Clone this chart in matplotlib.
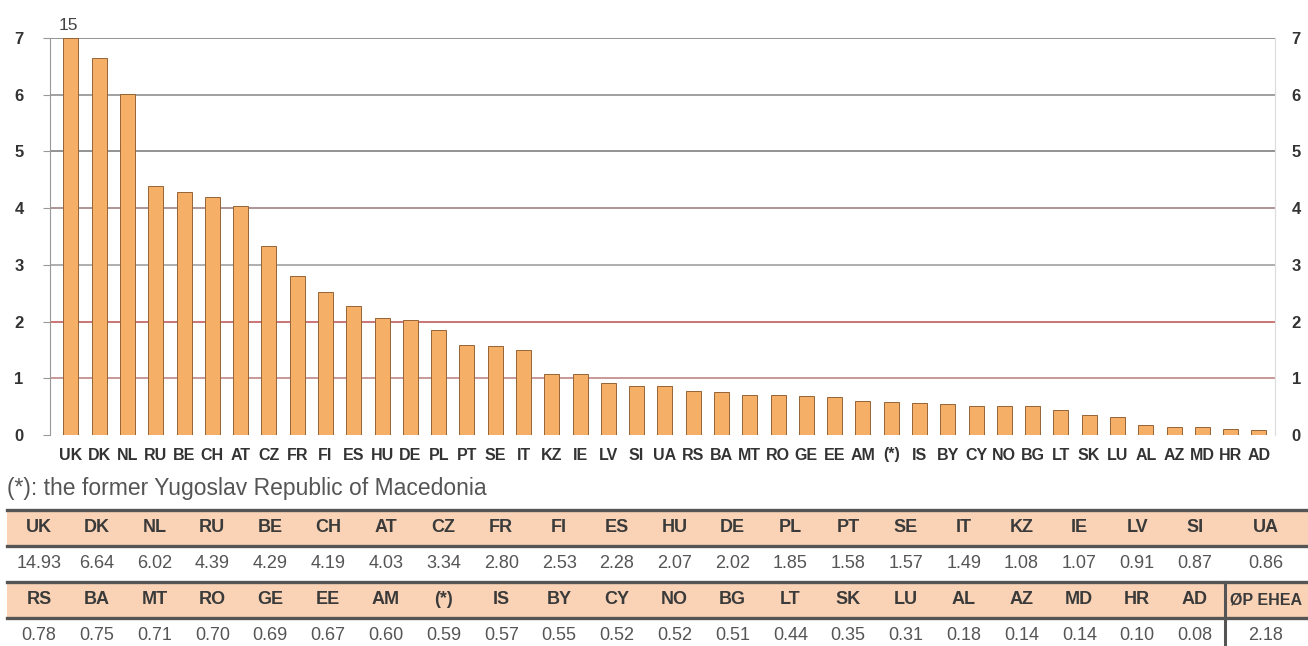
import matplotlib.pyplot as plt
from matplotlib.patches import Rectangle

plt.rcParams["font.family"] = ["Liberation Sans", "DejaVu Sans"]

codes = ["UK", "DK", "NL", "RU", "BE", "CH", "AT", "CZ", "FR", "FI", "ES", "HU",
         "DE", "PL", "PT", "SE", "IT", "KZ", "IE", "LV", "SI", "UA",
         "RS", "BA", "MT", "RO", "GE", "EE", "AM", "(*)", "IS", "BY", "CY", "NO",
         "BG", "LT", "SK", "LU", "AL", "AZ", "MD", "HR", "AD"]
values = [14.93, 6.64, 6.02, 4.39, 4.29, 4.19, 4.03, 3.34, 2.80, 2.53, 2.28, 2.07,
          2.02, 1.85, 1.58, 1.57, 1.49, 1.08, 1.07, 0.91, 0.87, 0.86,
          0.78, 0.75, 0.71, 0.70, 0.69, 0.67, 0.60, 0.59, 0.57, 0.55, 0.52, 0.52,
          0.51, 0.44, 0.35, 0.31, 0.18, 0.14, 0.14, 0.10, 0.08]
avg_label = "ØP EHEA"
avg_value = 2.18
y_max = 7
footnote = "(*): the former Yugoslav Republic of Macedonia"

W, H = 1308, 646
fig = plt.figure(figsize=(W / 100, H / 100), dpi=100)

# --- bar chart ---------------------------------------------------------------
left, right, top, base = 50, 1275, 38, 435
ax = fig.add_axes([left / W, (H - base) / H, (right - left) / W, (base - top) / H])
x = list(range(len(codes)))
ax.bar(x, [min(v, y_max) for v in values], width=0.53, color="#F6AF66",
       edgecolor="#946436", linewidth=0.7, zorder=3)
ax.set_xlim(-0.74, len(codes) - 1 + 0.57)
ax.set_ylim(0, y_max)

grid_colors = {1: "#c49090", 2: "#c86a6a", 3: "#a8a8a8", 4: "#a88c8c",
               5: "#8a8a8a", 6: "#999999", 7: "#8a8a8a"}
for level, col in grid_colors.items():
    ax.axhline(level, color=col, linewidth=1.3, zorder=1)

# clipped first bar gets its true value on top
for i, v in enumerate(values):
    if v > y_max:
        ax.text(i - 0.1, y_max + 0.08, f"{v:.0f}", ha="center", va="bottom",
                fontsize=12.5, color="#444444")

ax.set_xticks(x)
ax.set_xticklabels(codes, fontsize=11.5, fontweight="bold", color="#333333")
ax.tick_params(axis="x", length=0, pad=9)
ax.set_yticks(range(0, y_max + 1))
ax.tick_params(axis="y", labelsize=12, colors="#333333", length=5,
               color="#999999", pad=14)
for lab in ax.get_yticklabels():
    lab.set_fontweight("bold")
for side in ["top", "bottom"]:
    ax.spines[side].set_visible(False)
ax.spines["left"].set_color("#999999")
ax.spines["right"].set_color("#dddddd")

# mirrored scale on the right
ax2 = ax.twinx()
ax2.set_ylim(0, y_max)
ax2.set_yticks(range(0, y_max + 1))
ax2.tick_params(axis="y", labelsize=12, colors="#333333", length=0, pad=12)
for lab in ax2.get_yticklabels():
    lab.set_fontweight("bold")
for side in ["top", "bottom", "left"]:
    ax2.spines[side].set_visible(False)
ax2.spines["right"].set_color("#dddddd")

# --- footnote and table ------------------------------------------------------
tab = fig.add_axes([0, 0, 1, 1])
tab.set_xlim(0, W)
tab.set_ylim(H, 0)
tab.axis("off")

tab.text(7, 488, footnote, fontsize=16.5, color="#555555", va="center")

t_left, t_right, col_w = 10, 1308, 57.8
row_tops = [510, 546, 582, 617]
row_h = 36
header_col = "#FAD3B6"
line_col = "#555555"

n_row = 21
rows = [
    (codes[:n_row] + [codes[n_row]], values[:n_row] + [values[n_row]]),
    (codes[n_row + 1:] + [avg_label], values[n_row + 1:] + [avg_value]),
]

for r, (labs, vals) in enumerate(rows):
    hy = row_tops[2 * r]
    vy = row_tops[2 * r + 1]
    tab.add_patch(Rectangle((t_left - 3, hy), t_right - t_left + 3, row_h,
                            facecolor=header_col, edgecolor="none"))
    for yy in (hy, hy + row_h):
        tab.plot([t_left - 3, t_right], [yy, yy], color=line_col, lw=2.4)
    for j, (lab, val) in enumerate(zip(labs, vals)):
        if j < n_row:
            cx = t_left + col_w * (j + 0.5)
        else:
            cx = (t_left + col_w * n_row + t_right) / 2
        fs = 11.5 if lab == avg_label else 13
        tab.text(cx, hy + row_h / 2, lab, ha="center", va="center",
                 fontsize=fs, fontweight="bold", color="#3a3a3a")
        tab.text(cx, vy + row_h / 2, f"{val:.2f}", ha="center", va="center",
                 fontsize=13, color="#555555")
    if r == 1:
        sx = t_left + col_w * n_row + 1
        tab.plot([sx, sx], [hy, H], color=line_col, lw=2.2)

fig.savefig("out.png", dpi=100)
